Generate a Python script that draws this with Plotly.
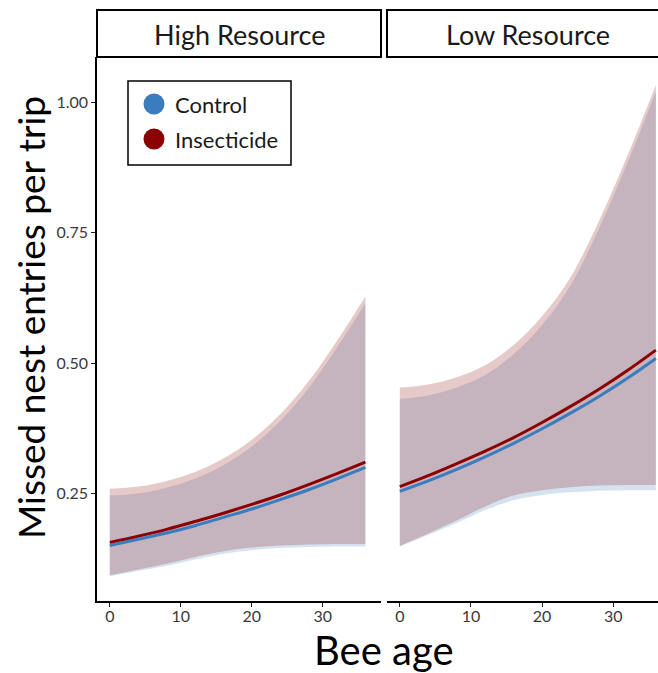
import plotly.graph_objects as go

# Bee age (days) at which the fitted curves are evaluated
age = [0, 4, 8, 12, 16, 20, 24, 28, 32, 36]

# High Resource panel: fitted rate and 95% interval
high_ctrl_fit = [0.150, 0.162, 0.174, 0.188, 0.204, 0.220, 0.238, 0.257, 0.278, 0.300]
high_ctrl_lo = [0.091, 0.101, 0.111, 0.123, 0.134, 0.141, 0.145, 0.147, 0.148, 0.148]
high_ctrl_hi = [0.246, 0.250, 0.261, 0.278, 0.304, 0.340, 0.389, 0.452, 0.530, 0.615]
high_ins_fit = [0.156, 0.168, 0.181, 0.196, 0.212, 0.229, 0.247, 0.267, 0.288, 0.310]
high_ins_lo = [0.093, 0.104, 0.115, 0.128, 0.139, 0.146, 0.150, 0.152, 0.153, 0.153]
high_ins_hi = [0.259, 0.263, 0.274, 0.291, 0.317, 0.353, 0.402, 0.465, 0.543, 0.628]

# Low Resource panel: fitted rate and 95% interval
low_ctrl_fit = [0.254, 0.274, 0.296, 0.320, 0.346, 0.374, 0.404, 0.436, 0.471, 0.509]
low_ctrl_lo = [0.148, 0.170, 0.193, 0.218, 0.237, 0.247, 0.252, 0.255, 0.256, 0.256]
low_ctrl_hi = [0.431, 0.438, 0.453, 0.477, 0.517, 0.573, 0.649, 0.758, 0.884, 1.021]
low_ins_fit = [0.263, 0.284, 0.307, 0.331, 0.357, 0.386, 0.417, 0.450, 0.486, 0.525]
low_ins_lo = [0.149, 0.173, 0.198, 0.225, 0.246, 0.256, 0.262, 0.265, 0.266, 0.266]
low_ins_hi = [0.453, 0.459, 0.473, 0.496, 0.535, 0.590, 0.665, 0.773, 0.898, 1.034]

panels = ["High Resource", "Low Resource"]
groups = ["Control", "Insecticide"]
y_ticks = [0.25, 0.50, 0.75, 1.00]
y_tick_text = ["0.25", "0.50", "0.75", "1.00"]
x_ticks = [0, 10, 20, 30]

LINE = {"Control": "#3A7DBF", "Insecticide": "#8B0000"}
FILL = {"Control": "rgba(58,125,191,0.21)", "Insecticide": "rgba(139,0,0,0.21)"}
FONT = "Lato, 'Noto Sans', sans-serif"

W, H = 658, 673
ML, MR, MT, MB = 97, 0, 57, 72
PW, PH = W - ML - MR, H - MT - MB


def px(x):
    return (x - ML) / PW


def py(y):
    return (H - MB - y) / PH


series = {
    ("High Resource", "Control"): (high_ctrl_fit, high_ctrl_lo, high_ctrl_hi),
    ("High Resource", "Insecticide"): (high_ins_fit, high_ins_lo, high_ins_hi),
    ("Low Resource", "Control"): (low_ctrl_fit, low_ctrl_lo, low_ctrl_hi),
    ("Low Resource", "Insecticide"): (low_ins_fit, low_ins_lo, low_ins_hi),
}

fig = go.Figure()
for i, panel in enumerate(panels):
    xa = "x" if i == 0 else "x2"
    ya = "y" if i == 0 else "y2"
    # confidence ribbons
    for g in groups:
        fit, lo, hi = series[(panel, g)]
        fig.add_trace(go.Scatter(x=age, y=lo, xaxis=xa, yaxis=ya, mode="lines",
                                 line=dict(width=0, shape="spline"),
                                 showlegend=False, hoverinfo="skip"))
        fig.add_trace(go.Scatter(x=age, y=hi, xaxis=xa, yaxis=ya, mode="lines",
                                 line=dict(width=0, shape="spline"),
                                 fill="tonexty", fillcolor=FILL[g],
                                 showlegend=False, hoverinfo="skip"))
    # fitted curves
    for g in groups:
        fit, lo, hi = series[(panel, g)]
        fig.add_trace(go.Scatter(x=age, y=fit, xaxis=xa, yaxis=ya, mode="lines",
                                 line=dict(color=LINE[g], width=3, shape="spline"),
                                 name=g, showlegend=False))

y_range = [0.0435, 1.0875]
axis_common = dict(showgrid=False, zeroline=False, ticks="outside", ticklen=4,
                   tickwidth=1, tickcolor="#222",
                   tickfont=dict(family=FONT, size=16, color="#3a3a3a"))

fig.update_layout(
    width=W, height=H,
    margin=dict(l=ML, r=MR, t=MT, b=MB, pad=0),
    paper_bgcolor="white", plot_bgcolor="white",
    showlegend=False,
    xaxis=dict(domain=[0, px(381)], range=[-1.8, 38.2], tickvals=x_ticks,
               showline=True, linecolor="black", linewidth=1.5, anchor="y",
               ticklabelstandoff=-4, **axis_common),
    xaxis2=dict(domain=[px(387), 1], range=[-1.8, 36.3], tickvals=x_ticks,
                showline=True, linecolor="black", linewidth=1.5, anchor="y2",
                ticklabelstandoff=-4, **axis_common),
    yaxis=dict(domain=[0, 1], range=y_range, tickvals=y_ticks, ticktext=y_tick_text,
               showline=True, linecolor="black", linewidth=1.5, anchor="x",
               **axis_common),
    yaxis2=dict(domain=[0, 1], range=y_range, matches="y", anchor="x2",
                showline=False, showticklabels=False, ticks="",
                showgrid=False, zeroline=False),
)

shapes = []
annotations = []

# facet strips
strips = [(97, 381, "High Resource", 239), (387, 700, "Low Resource", 528)]
for x0, x1, label, cx in strips:
    shapes.append(dict(type="rect", xref="paper", yref="paper",
                       x0=px(x0), x1=px(x1), y0=py(57), y1=py(10),
                       line=dict(color="black", width=2), fillcolor="white",
                       layer="above"))
    annotations.append(dict(text=label, xref="paper", yref="paper",
                            x=px(cx), y=py(35), showarrow=False,
                            xanchor="center", yanchor="middle",
                            font=dict(family=FONT, size=27, color="#1a1a1a")))

# legend box
shapes.append(dict(type="rect", xref="paper", yref="paper",
                   x0=px(128), x1=px(291), y0=py(165), y1=py(81),
                   line=dict(color="black", width=1.5), fillcolor="white",
                   layer="above"))
for g, cy in zip(groups, [104, 139]):
    shapes.append(dict(type="circle", xref="paper", yref="paper",
                       xsizemode="pixel", ysizemode="pixel",
                       xanchor=px(154), yanchor=py(cy),
                       x0=-10.5, x1=10.5, y0=-10.5, y1=10.5,
                       line=dict(width=0), fillcolor=LINE[g], layer="above"))
    annotations.append(dict(text=g, xref="paper", yref="paper",
                            x=px(173), y=py(cy), showarrow=False,
                            xanchor="left", yanchor="middle",
                            font=dict(family=FONT, size=22, color="#1a1a1a")))

# axis titles
annotations.append(dict(text="Missed nest entries per trip", xref="paper", yref="paper",
                        x=px(30), y=py(318), showarrow=False, textangle=-90,
                        xanchor="center", yanchor="middle",
                        font=dict(family=FONT, size=37, color="black")))
annotations.append(dict(text="Bee age", xref="paper", yref="paper",
                        x=px(384), y=py(650), showarrow=False,
                        xanchor="center", yanchor="middle",
                        font=dict(family=FONT, size=40, color="black")))

fig.update_layout(shapes=shapes, annotations=annotations)
fig.write_html("out.html")
